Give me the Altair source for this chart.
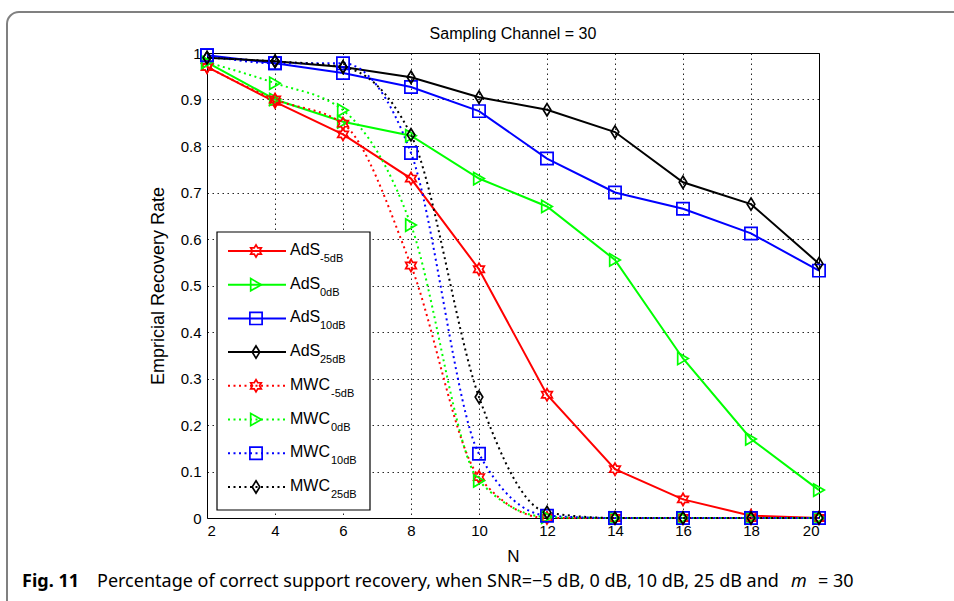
import altair as alt
import pandas as pd

# ---- data -----------------------------------------------------------------
N = [2, 4, 6, 8, 10, 12, 14, 16, 18, 20]

ads_m5 = [0.970, 0.895, 0.825, 0.730, 0.535, 0.265, 0.105, 0.040, 0.005, 0.000]
ads_0 = [0.980, 0.900, 0.852, 0.822, 0.730, 0.670, 0.555, 0.343, 0.170, 0.060]
ads_10 = [0.995, 0.978, 0.957, 0.927, 0.875, 0.773, 0.700, 0.665, 0.612, 0.532]
ads_25 = [0.990, 0.982, 0.970, 0.948, 0.905, 0.878, 0.830, 0.722, 0.675, 0.547]

mwc_m5 = [0.970, 0.900, 0.848, 0.543, 0.088, 0.000, 0.000, 0.000, 0.000, 0.000]
mwc_0 = [0.980, 0.935, 0.877, 0.630, 0.080, 0.002, 0.000, 0.000, 0.000, 0.000]
mwc_10 = [0.995, 0.978, 0.978, 0.785, 0.138, 0.005, 0.000, 0.000, 0.000, 0.000]
mwc_25 = [0.990, 0.982, 0.970, 0.824, 0.260, 0.012, 0.000, 0.000, 0.000, 0.000]

SNR = ["-5dB", "0dB", "10dB", "25dB"]
Y_TICKS = [0, 0.1, 0.2, 0.3, 0.4, 0.5, 0.6, 0.7, 0.8, 0.9, 1]
TITLE = "Sampling Channel = 30"

series = {
    ("AdS", "-5dB"): ads_m5,
    ("AdS", "0dB"): ads_0,
    ("AdS", "10dB"): ads_10,
    ("AdS", "25dB"): ads_25,
    ("MWC", "-5dB"): mwc_m5,
    ("MWC", "0dB"): mwc_0,
    ("MWC", "10dB"): mwc_10,
    ("MWC", "25dB"): mwc_25,
}

rows = []
for (method, snr), vals in series.items():
    for n, v in zip(N, vals):
        rows.append({"N": n, "rate": v, "method": method, "snr": snr,
                     "series": f"{method} {snr}"})
df = pd.DataFrame(rows)

# ---- styling ----------------------------------------------------------------
FONT = "Liberation Sans"
COLORS = ["#ff0000", "#00ff00", "#0000ff", "#000000"]
HEXAGRAM = ("M0,-1L0.289,-0.5L0.866,-0.5L0.577,0L0.866,0.5L0.289,0.5L0,1"
            "L-0.289,0.5L-0.866,0.5L-0.577,0L-0.866,-0.5L-0.289,-0.5Z")
DIAMOND = "M0,-1L0.62,0L0,1L-0.62,0Z"
SHAPES = [HEXAGRAM, "triangle-right", "square", DIAMOND]
DOT = [2, 3.5]

# plot area geometry (pixels)
LEFT, TOP, W, H = 207, 53, 612, 465


def n_at(px):
    return 2 + (px - LEFT) / W * 18


def rate_at(py):
    return 1 - (py - TOP) / H


x_scale = alt.Scale(domain=[2, 20], nice=False, zero=False)
x_enc = alt.X("N:Q", scale=x_scale,
              axis=alt.Axis(values=N, title="N", labelPadding=5, titlePadding=10,
                            titleFontSize=17))
y_enc = alt.Y("rate:Q", scale=alt.Scale(domain=[0, 1], nice=False),
              axis=alt.Axis(values=Y_TICKS, format="~g",
                            title="Empricial Recovery Rate", labelPadding=6,
                            titlePadding=13, titleFontSize=18))
color_enc = alt.Color("snr:N", scale=alt.Scale(domain=SNR, range=COLORS), legend=None)
shape_enc = alt.Shape("snr:N", scale=alt.Scale(domain=SNR, range=SHAPES), legend=None)

base = alt.Chart(df)

ads_lines = base.transform_filter(alt.datum.method == "AdS").mark_line(
    strokeWidth=2).encode(x=x_enc, y=y_enc, color=color_enc, detail="series:N")
mwc_lines = base.transform_filter(alt.datum.method == "MWC").mark_line(
    strokeWidth=2, strokeDash=DOT, interpolate="monotone").encode(
    x=x_enc, y=y_enc, color=color_enc, detail="series:N")
markers = base.mark_point(filled=False, size=150, strokeWidth=1.7, opacity=1).encode(
    x=x_enc, y=y_enc, color=color_enc, shape=shape_enc)

# ---- legend (drawn inside the plot, lower left) -------------------------------
leg_rows = []
for i, (method, snr) in enumerate(series.keys()):
    py = 251 + i * 33.7
    sub_px = 320 if method == "AdS" else 331
    leg_rows.append({
        "method": method, "snr": snr, "main": method, "sub": snr,
        "rate": rate_at(py), "N": n_at(228), "N2": n_at(286),
        "mx": n_at(256), "tx": n_at(290), "sx": n_at(sub_px),
    })
leg = pd.DataFrame(leg_rows)
lb = alt.Chart(leg)

one = pd.DataFrame({"k": [0]})

box = alt.Chart(one).mark_rect(
    fill="white", stroke="black", strokeWidth=1.2).encode(
    x=alt.value(217 - LEFT), x2=alt.value(370 - LEFT),
    y=alt.value(232 - TOP), y2=alt.value(510 - TOP))

leg_solid = lb.transform_filter(alt.datum.method == "AdS").mark_rule(
    strokeWidth=2).encode(x=x_enc, x2="N2:Q", y=y_enc, color=color_enc)
leg_dot = lb.transform_filter(alt.datum.method == "MWC").mark_rule(
    strokeWidth=2, strokeDash=DOT).encode(x=x_enc, x2="N2:Q", y=y_enc, color=color_enc)
leg_marks = lb.mark_point(filled=False, size=150, strokeWidth=1.7, opacity=1).encode(
    x=alt.X("mx:Q", scale=x_scale), y=y_enc, color=color_enc, shape=shape_enc)
leg_main = lb.mark_text(align="left", baseline="middle", font=FONT, fontSize=16,
                        dy=-1).encode(
    x=alt.X("tx:Q", scale=x_scale), y=y_enc, text="main:N")
leg_sub = lb.mark_text(align="left", baseline="middle", font=FONT, fontSize=11,
                       dy=8).encode(
    x=alt.X("sx:Q", scale=x_scale), y=y_enc, text="sub:N")

# ---- title, figure frame and caption -------------------------------------------
title = alt.Chart(one).mark_text(
    text=TITLE, align="center", baseline="middle", font=FONT, fontSize=16,
    color="black").encode(x=alt.value(W / 2), y=alt.value(34 - TOP))

frame = alt.Chart(one).mark_rect(
    fill="white", fillOpacity=0, stroke="#808080", strokeWidth=2, cornerRadius=12).encode(
    x=alt.value(7 - LEFT), x2=alt.value(975 - LEFT),
    y=alt.value(12 - TOP), y2=alt.value(625 - TOP))

CAP_Y = 582 - TOP
CAP_FONT = "Noto Sans"
cap_parts = [
    ("Fig. 11", 22, "bold", "normal"),
    ("Percentage of correct support recovery, when SNR=\u22125 dB, 0 dB, 10 dB, 25 dB and",
     97, "normal", "normal"),
    ("m", 791, "normal", "italic"),
    ("= 30", 818, "normal", "normal"),
]
caption = [
    alt.Chart(one).mark_text(text=t, align="left", baseline="middle", font=CAP_FONT,
                             fontSize=18, fontWeight=fw, fontStyle=fs,
                             color="black").encode(
        x=alt.value(px - LEFT), y=alt.value(CAP_Y))
    for t, px, fw, fs in cap_parts
]

chart = alt.layer(
    frame, title, ads_lines, mwc_lines, markers,
    box, leg_solid, leg_dot, leg_marks, leg_main, leg_sub,
    *caption,
).properties(
    width=W, height=H,
    autosize=alt.AutoSizeParams(type="none"),
    padding={"left": LEFT, "top": TOP, "right": 954 - LEFT - W, "bottom": 601 - TOP - H},
    background="white",
).configure_view(
    stroke="black", strokeWidth=1,
).configure_axis(
    labelFont=FONT, labelFontSize=15, labelColor="black",
    titleFont=FONT, titleFontWeight="normal", titleColor="black",
    grid=True, gridColor="black", gridDash=[1.5, 3.5], gridWidth=1, gridOpacity=0.85,
    domain=False, ticks=False,
)

chart.save("out.html", embed_options={"renderer": "svg", "actions": False})
